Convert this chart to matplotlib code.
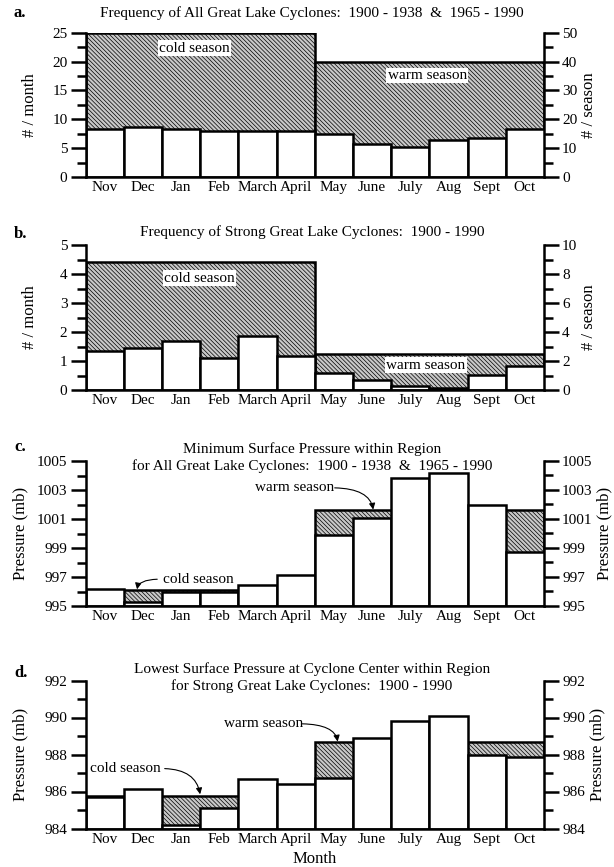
import numpy as np
import matplotlib
matplotlib.use("Agg")
import matplotlib.pyplot as plt
from matplotlib.ticker import MultipleLocator, FixedLocator

plt.rcParams['font.family'] = ['Liberation Serif', 'DejaVu Serif']
plt.rcParams['hatch.color'] = '#303030'
plt.rcParams['hatch.linewidth'] = 0.5

months = ['Nov', 'Dec', 'Jan', 'Feb', 'March', 'April',
          'May', 'June', 'July', 'Aug', 'Sept', 'Oct']
seasons = ['cold season', 'warm season']

# Panel a: all cyclones, # per month, seasonal totals (# per season)
freq_all = [8.35, 8.7, 8.35, 8.05, 7.9, 7.9, 7.45, 5.7, 5.2, 6.45, 6.7, 8.35]
season_all = [50.0, 39.8]
# Panel b: strong cyclones
freq_strong = [1.35, 1.45, 1.7, 1.1, 1.87, 1.17, 0.6, 0.36, 0.13, 0.07, 0.53, 0.83]
season_strong = [8.8, 2.5]
# Panel c: minimum surface pressure within region, all cyclones (mb)
pres_all = [996.2, 995.3, 996.0, 995.95, 996.45, 997.15,
            999.9, 1001.05, 1003.8, 1004.15, 1001.95, 998.75]
season_pres_all = [996.1, 1001.6]
# Panel d: lowest centre pressure, strong cyclones (mb)
pres_strong = [985.7, 986.15, 984.2, 985.1, 986.7, 986.4,
               986.75, 988.9, 989.8, 990.1, 988.0, 987.85]
season_pres_strong = [985.75, 988.65]

W, H = 614, 867
fig = plt.figure(figsize=(W / 100, H / 100), dpi=100)

def ax_rect(top_px, bot_px, left_px=85.5, right_px=544):
    return [left_px / W, 1 - bot_px / H, (right_px - left_px) / W, (bot_px - top_px) / H]

x = np.arange(len(months))
season_x = [2.5, 8.5]

def make_panel(rect, vals, svals, ylim, ylim2, major, minor, major2, minor2,
               ylabel, ylabel2, base=0.0, lpad=9):
    ax = fig.add_axes(rect)
    ax2 = ax.twinx()
    ax.set_zorder(2)
    ax2.set_zorder(1)
    ax.patch.set_visible(False)
    # seasonal boxes (right axis)
    ax2.bar(season_x, np.array(svals) - ylim2[0], bottom=ylim2[0], width=6,
            facecolor='#c8c8c8', edgecolor='black', hatch='\\' * 8, linewidth=1.8)
    # monthly bars (left axis)
    ax.bar(x, np.array(vals) - base, bottom=base, width=1.0, facecolor='white',
           edgecolor='black', linewidth=1.8)
    ax.set_xlim(-0.5, 11.5)
    ax.set_ylim(*ylim)
    ax2.set_ylim(*ylim2)
    ax.set_xticks(x)
    ax.set_xticklabels(months, fontsize=11)
    ax.tick_params(axis='x', length=0, pad=3)
    ax.yaxis.set_major_locator(FixedLocator(major))
    ax.yaxis.set_minor_locator(MultipleLocator(minor))
    ax2.yaxis.set_major_locator(FixedLocator(major2))
    ax2.yaxis.set_minor_locator(MultipleLocator(minor2))
    for a in (ax, ax2):
        a.tick_params(axis='y', which='major', direction='out', length=11, width=1.8,
                      labelsize=11, pad=2)
        a.tick_params(axis='y', which='minor', direction='out', length=6.5, width=1.8)
        for s in a.spines.values():
            s.set_linewidth(1.8)
        a.spines['top'].set_visible(False)
    ax.spines['right'].set_visible(False)
    ax2.spines['left'].set_visible(False)
    ax2.spines['bottom'].set_visible(False)
    ax.set_ylabel(ylabel, fontsize=12, labelpad=lpad)
    ax2.set_ylabel(ylabel2, fontsize=12, labelpad=3)
    return ax, ax2

box = dict(facecolor='white', edgecolor='none', pad=1.0)
arrow = dict(arrowstyle='-|>', color='black', lw=0.8, mutation_scale=9,
             shrinkA=2, shrinkB=0)

# ---- panel a
ax, ax2 = make_panel(ax_rect(32.7, 177), freq_all, season_all, (0, 25), (0, 50),
                     np.arange(0, 26, 5), 2.5, np.arange(0, 51, 10), 5,
                     '# / month', '# / season', lpad=10)
ax.text(2.35, 22.3, seasons[0], ha='center', va='center', fontsize=11, bbox=box)
ax.text(8.45, 17.6, seasons[1], ha='center', va='center', fontsize=11, bbox=box)
fig.text(312 / W, 1 - 13 / H, 'Frequency of All Great Lake Cyclones:  1900 - 1938  &  1965 - 1990',
         ha='center', va='center', fontsize=11)
fig.text(14 / W, 1 - 13 / H, 'a.', ha='left', va='center', fontsize=12, fontweight='bold')

# ---- panel b
ax, ax2 = make_panel(ax_rect(245, 390), freq_strong, season_strong, (0, 5), (0, 10),
                     np.arange(0, 6, 1), 0.5, np.arange(0, 11, 2), 1,
                     '# / month', '# / season', lpad=16)
ax.text(2.49, 3.85, seasons[0], ha='center', va='center', fontsize=11, bbox=box)
ax.text(8.4, 0.86, seasons[1], ha='center', va='center', fontsize=11, bbox=box)
fig.text(312 / W, 1 - 232 / H, 'Frequency of Strong Great Lake Cyclones:  1900 - 1990',
         ha='center', va='center', fontsize=11)
fig.text(14 / W, 1 - 234 / H, 'b.', ha='left', va='center', fontsize=12, fontweight='bold')

# ---- panel c
ax, ax2 = make_panel(ax_rect(461, 606), pres_all, season_pres_all, (995, 1005), (995, 1005),
                     np.arange(995, 1006, 2), 1, np.arange(995, 1006, 2), 1,
                     'Pressure (mb)', 'Pressure (mb)', base=995, lpad=6)
ax.text(4.97, 1003.15, seasons[1], ha='center', va='center', fontsize=11)
ax.annotate('', xy=(7.03, 1001.65), xytext=(5.95, 1003.15),
            arrowprops=dict(connectionstyle='angle3,angleA=0,angleB=-80', **arrow))
ax.text(2.46, 996.8, seasons[0], ha='center', va='center', fontsize=11)
ax.annotate('', xy=(0.85, 996.15), xytext=(1.45, 996.85),
            arrowprops=dict(connectionstyle='angle3,angleA=180,angleB=-100', **arrow))
fig.text(312 / W, 1 - 449 / H, 'Minimum Surface Pressure within Region',
         ha='center', va='center', fontsize=11)
fig.text(312 / W, 1 - 466 / H, 'for All Great Lake Cyclones:  1900 - 1938  &  1965 - 1990',
         ha='center', va='center', fontsize=11)
fig.text(14 / W, 1 - 447 / H, 'c.', ha='left', va='center', fontsize=12, fontweight='bold')

# ---- panel d
ax, ax2 = make_panel(ax_rect(680.5, 828.5), pres_strong, season_pres_strong, (984, 992), (984, 992),
                     np.arange(984, 993, 2), 1, np.arange(984, 993, 2), 1,
                     'Pressure (mb)', 'Pressure (mb)', base=984, lpad=12)
ax.text(4.15, 989.66, seasons[1], ha='center', va='center', fontsize=11)
ax.annotate('', xy=(6.1, 988.7), xytext=(5.1, 989.66),
            arrowprops=dict(connectionstyle='angle3,angleA=0,angleB=-80', **arrow))
ax.text(0.55, 987.24, seasons[0], ha='center', va='center', fontsize=11)
ax.annotate('', xy=(2.5, 985.85), xytext=(1.5, 987.24),
            arrowprops=dict(connectionstyle='angle3,angleA=0,angleB=-80', **arrow))
ax.set_xlabel('Month', fontsize=12, labelpad=4)
fig.text(312 / W, 1 - 669 / H, 'Lowest Surface Pressure at Cyclone Center within Region',
         ha='center', va='center', fontsize=11)
fig.text(312 / W, 1 - 686 / H, 'for Strong Great Lake Cyclones:  1900 - 1990',
         ha='center', va='center', fontsize=11)
fig.text(14 / W, 1 - 673 / H, 'd.', ha='left', va='center', fontsize=12, fontweight='bold')

fig.savefig('out.png', dpi=100)
